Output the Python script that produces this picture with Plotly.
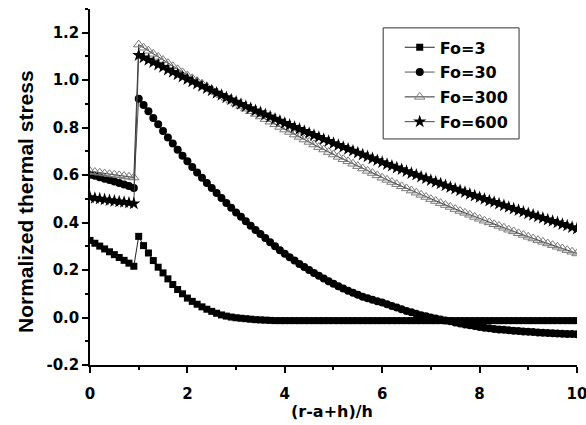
import plotly.graph_objects as go

# Sampling positions: inner layer (0 - 0.9) and outer layer (1.0 - 10.0)
x_inner = [0.0, 0.1, 0.2, 0.3, 0.4, 0.5, 0.6, 0.7, 0.8, 0.9]
x_outer = [1.0, 1.1, 1.2, 1.3, 1.4, 1.5, 1.6, 1.7, 1.8, 1.9,
           2.0, 2.1, 2.2, 2.3, 2.4, 2.5, 2.6, 2.7, 2.8, 2.9,
           3.0, 3.1, 3.2, 3.3, 3.4, 3.5, 3.6, 3.7, 3.8, 3.9,
           4.0, 4.1, 4.2, 4.3, 4.4, 4.5, 4.6, 4.7, 4.8, 4.9,
           5.0, 5.1, 5.2, 5.3, 5.4, 5.5, 5.6, 5.7, 5.8, 5.9,
           6.0, 6.1, 6.2, 6.3, 6.4, 6.5, 6.6, 6.7, 6.8, 6.9,
           7.0, 7.1, 7.2, 7.3, 7.4, 7.5, 7.6, 7.7, 7.8, 7.9,
           8.0, 8.1, 8.2, 8.3, 8.4, 8.5, 8.6, 8.7, 8.8, 8.9,
           9.0, 9.1, 9.2, 9.3, 9.4, 9.5, 9.6, 9.7, 9.8, 9.9,
           10.0]

# Normalized thermal stress, Fo = 3
fo3_inner = [0.325, 0.313, 0.301, 0.289, 0.277, 0.265, 0.253, 0.241, 0.229, 0.216]
fo3_outer = [0.342, 0.303, 0.272, 0.240, 0.212, 0.188, 0.163, 0.139, 0.118, 0.100,
             0.082, 0.068, 0.056, 0.045, 0.035, 0.026, 0.018, 0.011, 0.006, 0.002,
             -0.001, -0.003, -0.005, -0.007, -0.009, -0.010, -0.011, -0.012, -0.013, -0.013,
             -0.013, -0.013, -0.013, -0.013, -0.013, -0.013, -0.013, -0.013, -0.013, -0.013,
             -0.013, -0.013, -0.013, -0.013, -0.013, -0.013, -0.013, -0.013, -0.013, -0.013,
             -0.013, -0.013, -0.013, -0.013, -0.013, -0.013, -0.013, -0.013, -0.013, -0.013,
             -0.013, -0.013, -0.013, -0.013, -0.013, -0.013, -0.013, -0.013, -0.013, -0.013,
             -0.013, -0.013, -0.013, -0.013, -0.013, -0.013, -0.013, -0.013, -0.013, -0.013,
             -0.013, -0.013, -0.013, -0.013, -0.013, -0.013, -0.013, -0.013, -0.013, -0.013,
             -0.013]

# Fo = 30
fo30_inner = [0.602, 0.597, 0.591, 0.585, 0.579, 0.573, 0.567, 0.561, 0.554, 0.546]
fo30_outer = [0.922, 0.896, 0.869, 0.841, 0.814, 0.786, 0.759, 0.733, 0.707, 0.682,
              0.658, 0.634, 0.611, 0.589, 0.567, 0.546, 0.525, 0.504, 0.483, 0.463,
              0.443, 0.425, 0.406, 0.387, 0.369, 0.352, 0.335, 0.317, 0.300, 0.284,
              0.269, 0.254, 0.240, 0.226, 0.213, 0.200, 0.188, 0.176, 0.164, 0.153,
              0.142, 0.132, 0.122, 0.113, 0.104, 0.096, 0.088, 0.081, 0.075, 0.069,
              0.063, 0.056, 0.049, 0.042, 0.035, 0.028, 0.022, 0.016, 0.010, 0.005,
              0.000, -0.004, -0.008, -0.012, -0.016, -0.021, -0.025, -0.029, -0.033, -0.036,
              -0.040, -0.043, -0.045, -0.048, -0.050, -0.052, -0.054, -0.056, -0.057, -0.059,
              -0.060, -0.061, -0.063, -0.064, -0.065, -0.066, -0.067, -0.068, -0.069, -0.069,
              -0.070]

# Fo = 300
fo300_inner = [0.616, 0.613, 0.610, 0.607, 0.604, 0.602, 0.599, 0.596, 0.593, 0.590]
fo300_outer = [1.150, 1.137, 1.124, 1.111, 1.098, 1.085, 1.072, 1.059, 1.046, 1.033,
               1.020, 1.008, 0.996, 0.985, 0.973, 0.961, 0.949, 0.937, 0.926, 0.914,
               0.902, 0.891, 0.880, 0.869, 0.858, 0.847, 0.836, 0.825, 0.814, 0.803,
               0.792, 0.782, 0.771, 0.761, 0.750, 0.740, 0.729, 0.718, 0.708, 0.697,
               0.687, 0.677, 0.667, 0.658, 0.648, 0.638, 0.628, 0.618, 0.609, 0.599,
               0.589, 0.580, 0.571, 0.562, 0.553, 0.544, 0.535, 0.526, 0.517, 0.508,
               0.499, 0.491, 0.482, 0.474, 0.466, 0.457, 0.449, 0.441, 0.433, 0.424,
               0.416, 0.408, 0.401, 0.393, 0.386, 0.378, 0.370, 0.363, 0.355, 0.348,
               0.340, 0.333, 0.326, 0.319, 0.312, 0.305, 0.298, 0.291, 0.284, 0.277,
               0.270]

# Fo = 600
fo600_inner = [0.506, 0.503, 0.500, 0.497, 0.494, 0.491, 0.488, 0.486, 0.483, 0.480]
fo600_outer = [1.105, 1.095, 1.085, 1.075, 1.065, 1.055, 1.044, 1.034, 1.024, 1.014,
               1.004, 0.994, 0.985, 0.975, 0.966, 0.956, 0.946, 0.937, 0.927, 0.918,
               0.908, 0.899, 0.890, 0.881, 0.872, 0.864, 0.855, 0.846, 0.837, 0.828,
               0.819, 0.811, 0.802, 0.794, 0.785, 0.777, 0.768, 0.760, 0.751, 0.743,
               0.734, 0.726, 0.718, 0.710, 0.702, 0.694, 0.686, 0.678, 0.670, 0.662,
               0.654, 0.646, 0.639, 0.631, 0.624, 0.616, 0.608, 0.601, 0.593, 0.586,
               0.578, 0.571, 0.564, 0.556, 0.549, 0.542, 0.535, 0.528, 0.520, 0.513,
               0.506, 0.499, 0.492, 0.486, 0.479, 0.472, 0.465, 0.458, 0.452, 0.445,
               0.438, 0.432, 0.425, 0.419, 0.412, 0.406, 0.400, 0.393, 0.387, 0.380,
               0.374]

series_names = ["Fo=3", "Fo=30", "Fo=300", "Fo=600"]

x_ticks = [0, 2, 4, 6, 8, 10]
x_ticktext = ["0", "2", "4", "6", "8", "10"]
y_ticks = [-0.2, 0.0, 0.2, 0.4, 0.6, 0.8, 1.0, 1.2]
y_ticktext = ["-0.2", "0.0", "0.2", "0.4", "0.6", "0.8", "1.0", "1.2"]

x_all = x_inner + x_outer
series = [fo3_inner + fo3_outer, fo30_inner + fo30_outer,
          fo300_inner + fo300_outer, fo600_inner + fo600_outer]
for s in series:
    assert len(s) == len(x_all)

markers = [
    dict(symbol="square", size=7, color="black"),
    dict(symbol="circle", size=8, color="black"),
    dict(symbol="triangle-up-open", size=9, color="#7a7a7a"),
    dict(symbol="star", size=10, color="black"),
]
line_colors = ["#222222", "#555555", "#333333", "#444444"]

TICK_FONT = dict(family="DejaVu Sans", size=15, color="black", weight="bold")

fig = go.Figure()
for i, (name, ys, mk, lc) in enumerate(zip(series_names, series, markers, line_colors)):
    fig.add_trace(go.Scatter(
        x=x_all, y=ys, name=name, mode="lines+markers",
        line=dict(color=lc, width=1), marker=mk,
        legendgroup=f"g{i}",
    ))

# legend frame
fig.add_shape(type="rect", xref="paper", yref="paper",
              x0=0.602, x1=0.881, y0=0.635, y1=0.947,
              line=dict(color="#333333", width=1), fillcolor="rgba(0,0,0,0)",
              layer="above")

fig.update_layout(
    width=586, height=425,
    margin=dict(l=90, r=9, t=9, b=60, autoexpand=False),
    paper_bgcolor="white", plot_bgcolor="white",
    showlegend=True,
    legend=dict(
        x=0.636, y=0.94, xanchor="left", yanchor="top",
        bgcolor="rgba(255,255,255,0)", borderwidth=0,
        font=dict(family="DejaVu Sans", size=16, color="black", weight="bold"),
        tracegroupgap=1,
    ),
    xaxis=dict(
        range=[0, 10.001], showgrid=False, zeroline=False, automargin=False,
        showline=True, linecolor="black", linewidth=1.5,
        ticks="outside", ticklen=6, tickwidth=1.5, tickcolor="black",
        tickvals=x_ticks, ticktext=x_ticktext, tickfont=TICK_FONT,
        ticklabeloverflow="allow", ticklabelstandoff=8,
        minor=dict(ticks="outside", ticklen=3, tickwidth=1.5, tickcolor="black",
                   dtick=1, showgrid=False),
    ),
    yaxis=dict(
        range=[-0.2, 1.3], showgrid=False, zeroline=False, automargin=False,
        showline=True, linecolor="black", linewidth=1.5,
        ticks="outside", ticklen=6, tickwidth=1.5, tickcolor="black",
        tickvals=y_ticks, ticktext=y_ticktext, tickfont=TICK_FONT,
        minor=dict(ticks="outside", ticklen=3, tickwidth=1.5, tickcolor="black",
                   dtick=0.1, tick0=0, showgrid=False),
    ),
    annotations=[
        dict(text="(r-a+h)/h", xref="paper", yref="paper", x=0.496, y=-0.13,
             xanchor="center", yanchor="middle", showarrow=False,
             font=dict(family="DejaVu Sans", size=16, color="black", weight="bold")),
        dict(text="Normalized thermal stress", xref="paper", yref="paper",
             x=-0.134, y=0.46, xanchor="center", yanchor="middle", showarrow=False,
             textangle=-90,
             font=dict(family="Liberation Sans", size=21, color="black", weight="bold")),
    ],
)

fig.write_html("out.html")
